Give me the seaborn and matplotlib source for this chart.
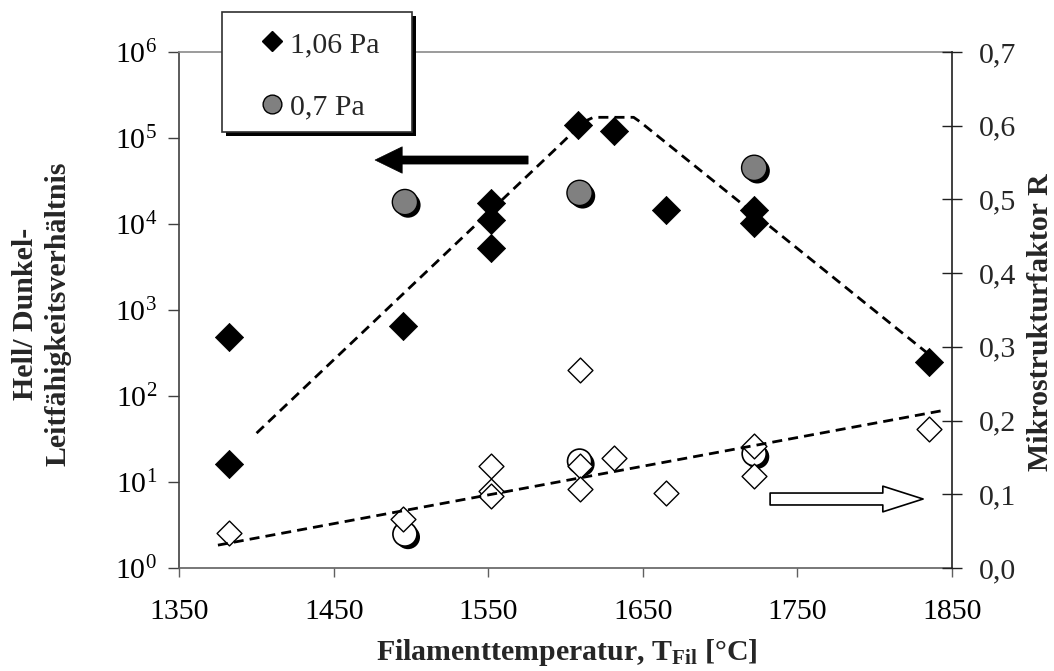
import matplotlib
matplotlib.use("Agg")
import matplotlib.pyplot as plt
import matplotlib.patheffects as pe
from matplotlib.lines import Line2D
from matplotlib.patches import FancyArrowPatch, ArrowStyle, Rectangle
from matplotlib.ticker import LogFormatterMathtext, FixedLocator, NullLocator
import seaborn as sns

# Hell/Dunkel-Leitfähigkeitsverhältnis (left axis)
temp_106 = [1382, 1382, 1495, 1552, 1552, 1552, 1608, 1631, 1665, 1722, 1722, 1835]
ratio_106 = [480, 16, 650, 17500, 11000, 5200, 142000, 120000, 14500, 14500, 10200, 250]
temp_07 = [1496, 1609, 1722]
ratio_07 = [18000, 23000, 45000]

# Mikrostrukturfaktor R (right axis)
r_temp_106 = [1382, 1495, 1552, 1552, 1552, 1609, 1609, 1609, 1631, 1665, 1722, 1722, 1835]
r_106 = [0.047, 0.067, 0.139, 0.104, 0.097, 0.268, 0.139, 0.107, 0.149, 0.102, 0.165, 0.125, 0.189]
r_temp_07 = [1496, 1609, 1722]
r_07 = [0.046, 0.145, 0.155]

# Hand-drawn guide curves
guide_ratio_t = [1400, 1594, 1606, 1612, 1618, 1644, 1648, 1845]
guide_ratio = [37, 7.6e4, 1.23e5, 1.55e5, 1.74e5, 1.74e5, 1.55e5, 219]
guide_r_t = [1375, 1845]
guide_r = [0.031, 0.214]

x_ticks = [1350, 1450, 1550, 1650, 1750, 1850]
y_ticks = [1e0, 1e1, 1e2, 1e3, 1e4, 1e5, 1e6]
r_ticks = [0.0, 0.1, 0.2, 0.3, 0.4, 0.5, 0.6, 0.7]
r_ticklabels = ["0,0", "0,1", "0,2", "0,3", "0,4", "0,5", "0,6", "0,7"]
legend_labels = ["1,06 Pa", "0,7 Pa"]

sns.set_style("white")
plt.rcParams["font.family"] = ["Liberation Serif", "DejaVu Serif"]
plt.rcParams["mathtext.fontset"] = "custom"
plt.rcParams["mathtext.rm"] = "Liberation Serif"
plt.rcParams["mathtext.it"] = "Liberation Serif:italic"
plt.rcParams["mathtext.bf"] = "Liberation Serif:bold"

FS = 21.5
W, H = 1054, 671
fig = plt.figure(figsize=(W / 100, H / 100), dpi=100)
fig.subplots_adjust(left=179.3 / W, right=952 / W, bottom=1 - 568 / H, top=1 - 52 / H)
ax = fig.add_subplot(111)
ax2 = ax.twinx()

shadow = [pe.SimplePatchShadow(offset=(2.2, -2.2), shadow_rgbFace="black", alpha=1.0), pe.Normal()]
dash = (0, (3.6, 2.2))

# ---- left axis: conductivity ratio ----
sns.lineplot(x=guide_ratio_t, y=guide_ratio, ax=ax, color="black", lw=2.0,
             linestyle=dash, sort=False, estimator=None, zorder=2)
sns.scatterplot(x=temp_106, y=ratio_106, ax=ax, marker="D", s=205, color="black",
                edgecolor="black", linewidth=0.6, legend=False, zorder=3)
sns.scatterplot(x=temp_07, y=ratio_07, ax=ax, marker="o", s=330, color="#808080",
                edgecolor="black", linewidth=1.0, legend=False, zorder=4)
ax.collections[-1].set_path_effects(shadow)

ax.set_yscale("log")
ax.set_xlim(1350, 1850)
ax.set_ylim(1, 1e6)
ax.yaxis.set_major_locator(FixedLocator(y_ticks))
ax.yaxis.set_major_formatter(LogFormatterMathtext())
ax.yaxis.set_minor_locator(NullLocator())
ax.set_xticks(x_ticks)
ax.set_xticklabels([str(t) for t in x_ticks])
ax.tick_params(axis="both", labelsize=FS, colors="black")
ax.tick_params(axis="y", direction="out", length=8, width=1, color="#404040", left=True, pad=8)
ax.tick_params(axis="x", direction="out", length=6.5, width=1, color="#606060", bottom=True, pad=16)
for name, col in [("left", "#404040"), ("bottom", "#606060"), ("top", "#8a8a8a")]:
    ax.spines[name].set_color(col)
    ax.spines[name].set_linewidth(1.2)
ax.spines["right"].set_visible(False)

# left-pointing arrow towards the ratio axis
ax.add_patch(FancyArrowPatch((1575.7, 10 ** 4.744), (1476.7, 10 ** 4.744),
                             arrowstyle=ArrowStyle.Simple(head_length=19.5, head_width=19, tail_width=5.8),
                             mutation_scale=1, shrinkA=0, shrinkB=0, fc="black", ec="black",
                             lw=0.5, zorder=5))

# ---- right axis: microstructure factor ----
sns.scatterplot(x=r_temp_07, y=r_07, ax=ax2, marker="o", s=300, color="white",
                edgecolor="black", linewidth=1.2, legend=False, zorder=2)
ax2.collections[-1].set_path_effects(shadow)
sns.scatterplot(x=r_temp_106, y=r_106, ax=ax2, marker="D", s=160, color="white",
                edgecolor="black", linewidth=1.0, legend=False, zorder=3)
sns.lineplot(x=guide_r_t, y=guide_r, ax=ax2, color="black", lw=2.0,
             linestyle=dash, sort=False, estimator=None, zorder=4)

ax2.set_ylim(0, 0.7)
ax2.set_xlim(1350, 1850)
ax2.set_yticks(r_ticks)
ax2.set_yticklabels(r_ticklabels)
ax2.tick_params(axis="y", direction="inout", length=15, width=1, color="#202020",
                labelsize=FS, pad=12, right=True)
ax2.set_ylabel("")
for name in ["left", "bottom", "top"]:
    ax2.spines[name].set_visible(False)
ax2.spines["right"].set_color("#202020")
ax2.spines["right"].set_linewidth(1.2)

# right-pointing open arrow towards the R axis
ax2.add_patch(FancyArrowPatch((1732.3, 0.0936), (1831.3, 0.0936),
                              arrowstyle=ArrowStyle.Simple(head_length=29, head_width=18.5, tail_width=8.6),
                              mutation_scale=1, shrinkA=0, shrinkB=0, fc="white", ec="black",
                              lw=1.2, zorder=5))

ax.set_xlabel("")
ax.set_ylabel("")

# ---- axis titles ----
fig.text(42 / W, 1 - 314 / H, "Hell/ Dunkel-\nLeitfähigkeitsverhältnis", rotation=90,
         ha="center", va="center", multialignment="center", fontsize=FS,
         fontweight="bold", linespacing=1.25)
fig.text(1040 / W, 1 - 322 / H, "Mikrostrukturfaktor R", rotation=90,
         ha="center", va="center", fontsize=FS, fontweight="bold")
fig.text(567 / W, 1 - 652 / H, r"Filamenttemperatur, $\mathbf{T}_{\mathbf{Fil}}$ [°C]",
         ha="center", va="center", fontsize=FS, fontweight="bold")

# ---- legend box with drop shadow ----
bx0, by0, bx1, by1 = 222, 12, 412, 132
fig.add_artist(Rectangle(((bx0 + 4) / W, 1 - (by1 + 4) / H), (bx1 - bx0) / W, (by1 - by0) / H,
                         transform=fig.transFigure, facecolor="black", edgecolor="black",
                         lw=0, zorder=4))
fig.add_artist(Rectangle((bx0 / W, 1 - by1 / H), (bx1 - bx0) / W, (by1 - by0) / H,
                         transform=fig.transFigure, facecolor="white", edgecolor="#303030",
                         lw=1.2, zorder=4.5))
handles = [
    Line2D([], [], ls="", marker="D", ms=10, mfc="black", mec="black"),
    Line2D([], [], ls="", marker="o", ms=13.5, mfc="#808080", mec="black", mew=1.0),
]
leg = fig.legend(handles, legend_labels, loc="upper left",
                 bbox_to_anchor=(257 / W, 1 - 31 / H), frameon=False, fontsize=FS,
                 handlelength=1.0, handletextpad=0.1, borderpad=0, borderaxespad=0,
                 labelspacing=1.2)
leg.set_zorder(6)

fig.savefig("out.png", dpi=100)
